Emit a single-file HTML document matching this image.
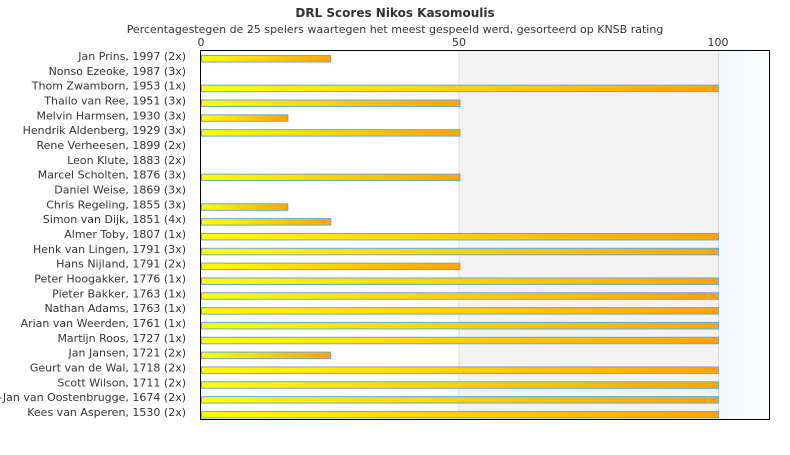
<!DOCTYPE html>
<html><head><meta charset="utf-8"><style>
body{margin:0;background:#fff;}
svg text{font-family:"DejaVu Sans","Liberation Sans",sans-serif;fill:#333;}
</style></head><body>
<svg width="790" height="450" xmlns="http://www.w3.org/2000/svg">
<defs>
<linearGradient id="g" x1="0" x2="1" y1="0" y2="0"><stop offset="0" stop-color="#ffff00"/><stop offset="1" stop-color="#ffa500"/></linearGradient>
<linearGradient id="b" x1="0" x2="1"><stop offset="0" stop-color="#f2f6fb"/><stop offset="1" stop-color="#fdfeff"/></linearGradient>
</defs>
<text x="395" y="17" text-anchor="middle" font-size="12" font-weight="bold" fill="#444">DRL Scores Nikos Kasomoulis</text>
<text x="395" y="33" text-anchor="middle" font-size="11">Percentagestegen de 25 spelers waartegen het meest gespeeld werd, gesorteerd op KNSB rating</text>
<text x="201" y="46" text-anchor="middle" font-size="11">0</text>
<text x="459" y="46" text-anchor="middle" font-size="11">50</text>
<text x="718" y="46" text-anchor="middle" font-size="11">100</text>
<rect x="459" y="50" width="259" height="370" fill="#f3f3f3"/>
<rect x="718" y="50" width="52" height="370" fill="url(#b)"/>
<line x1="459" y1="50" x2="459" y2="420" stroke="#ddd"/>
<line x1="718.5" y1="50" x2="718.5" y2="420" stroke="#ddd"/>
<rect x="200.5" y="50.5" width="569" height="369" fill="none" stroke="#000"/>
<g id="rows" font-size="11" text-anchor="end"></g>
</svg>
<script>
var d=[["Jan Prins, 1997 (2x)",25],["Nonso Ezeoke, 1987 (3x)",0],["Thom Zwamborn, 1953 (1x)",100],["Thailo van Ree, 1951 (3x)",50],["Melvin Harmsen, 1930 (3x)",16.7],["Hendrik Aldenberg, 1929 (3x)",50],["Rene Verheesen, 1899 (2x)",0],["Leon Klute, 1883 (2x)",0],["Marcel Scholten, 1876 (3x)",50],["Daniel Weise, 1869 (3x)",0],["Chris Regeling, 1855 (3x)",16.7],["Simon van Dijk, 1851 (4x)",25],["Almer Toby, 1807 (1x)",100],["Henk van Lingen, 1791 (3x)",100],["Hans Nijland, 1791 (2x)",50],["Peter Hoogakker, 1776 (1x)",100],["Pieter Bakker, 1763 (1x)",100],["Nathan Adams, 1763 (1x)",100],["Arian van Weerden, 1761 (1x)",100],["Martijn Roos, 1727 (1x)",100],["Jan Jansen, 1721 (2x)",25],["Geurt van de Wal, 1718 (2x)",100],["Scott Wilson, 1711 (2x)",100],["Gert-Jan van Oostenbrugge, 1674 (2x)",100],["Kees van Asperen, 1530 (2x)",100]];
var g=document.getElementById('rows'),h='';
d.forEach(function(r,i){var y=56+14.83*i;h+='<text x="186" y="'+(y+4)+'">'+r[0]+'</text>';
if(r[1]>0){var w=r[1]*5.17;h+='<rect x="201.5" y="'+(55.5+14.83*i)+'" width="'+w+'" height="6.5" fill="url(#g)" stroke="#6aa6e0" stroke-width="1"/>';}});
g.innerHTML=h;
</script>
</body></html>
